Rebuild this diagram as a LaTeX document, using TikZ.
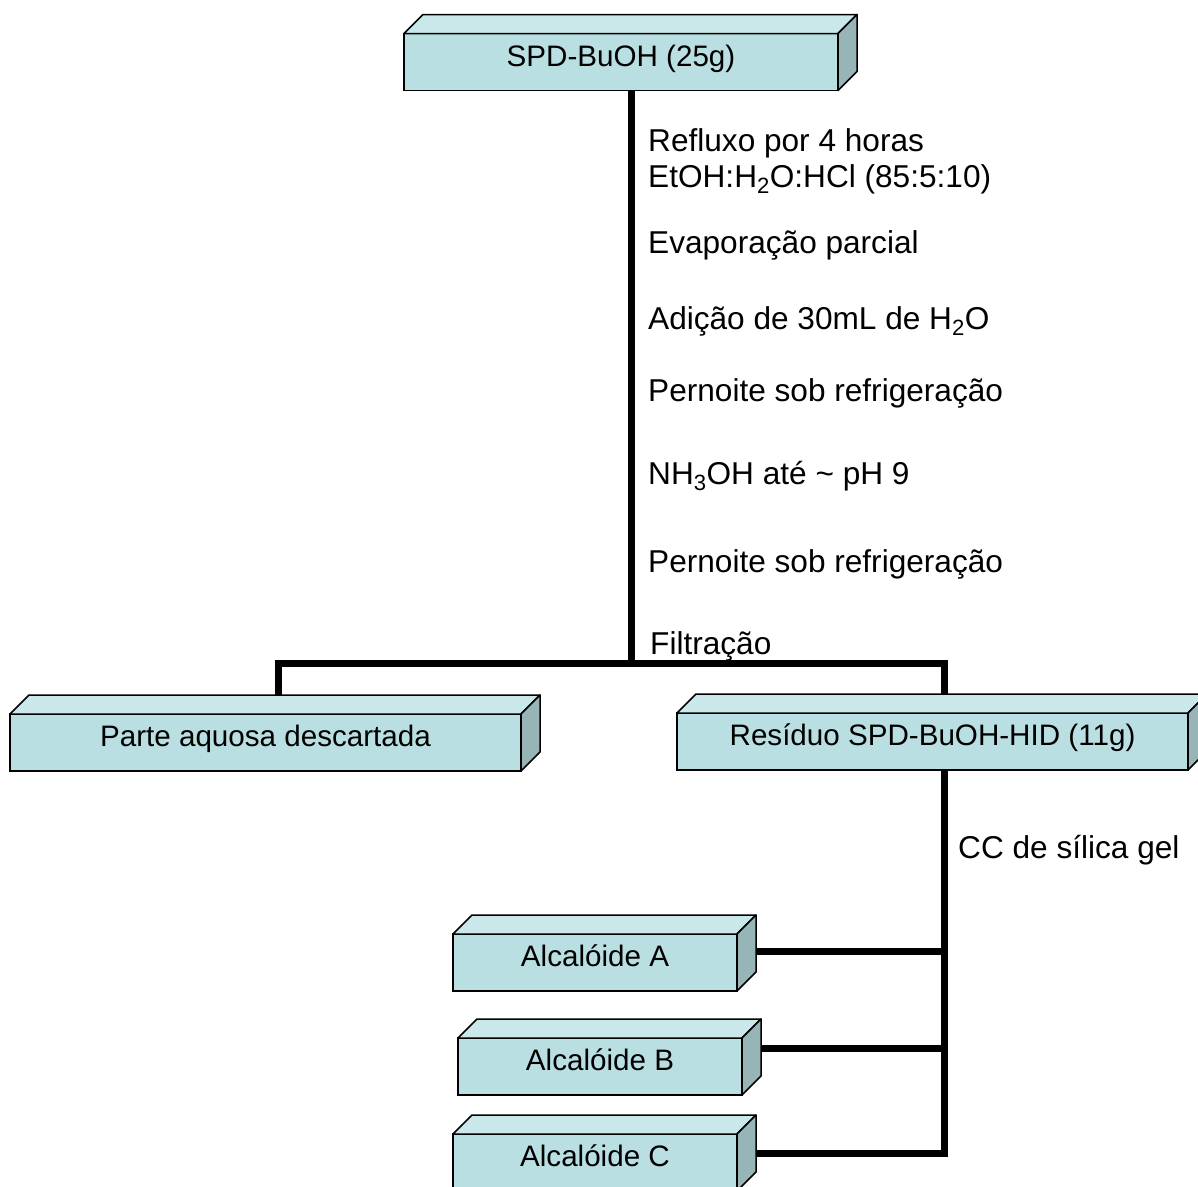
\documentclass[tikz,border=0pt]{standalone}
\usepackage{fontspec}
\setmainfont{Liberation Sans}
\usetikzlibrary{calc}
\definecolor{frontc}{RGB}{185,223,226}
\definecolor{topc}{RGB}{202,232,234}
\definecolor{sidec}{RGB}{151,180,182}
\tikzset{
  front/.style={draw=black, line width=1.5pt, fill=frontc, inner sep=0pt, outer sep=0pt,
    minimum height=57pt, text height=20pt, text depth=12pt,
    font=\fontsize{29.6}{34}\selectfont},
  topface/.style={draw=black, line width=1.5pt, fill=topc, line join=round},
  sideface/.style={draw=black, line width=1.5pt, fill=sidec, line join=round},
  conn/.style={line width=7pt, line cap=butt, line join=miter},
  lbl/.style={anchor=base west, inner sep=0pt, font=\fontsize{31.6}{36}\selectfont}
}
\newcommand\cuboid[1]{%
  \draw[topface] (#1.north west) -- ++(19pt,19pt) -- ([xshift=19pt,yshift=19pt]#1.north east) -- (#1.north east) -- cycle;
  \draw[sideface] (#1.north east) -- ([xshift=19pt,yshift=19pt]#1.north east) -- ([xshift=19pt,yshift=19pt]#1.south east) -- (#1.south east) -- cycle;
  \coordinate (#1-back) at ([xshift=19pt,yshift=19pt]#1.north east);
}
\begin{document}
\begin{tikzpicture}[x=1pt,y=-1pt]
\useasboundingbox[fill=white] (0,0) rectangle (1198,1186);
% junction coordinates
\coordinate (j) at (631,663);
\coordinate (jl) at (278,663);
\coordinate (jr) at (944,663);
\coordinate (ja) at (944,951);
\coordinate (jb) at (944,1048);
\coordinate (jc) at (944,1153);
\coordinate (lt) at (278,695);
\coordinate (rt) at (944,695);

% connectors (drawn first, boxes on top)
\draw[conn] (631,90) coordinate (s0) -- (j);
\draw[conn] ([xshift=-3.5pt]jl) -- ([xshift=3.5pt]jr);
\draw[conn] (jl) -- (lt);
\draw[conn] (jr) -- (rt);
\draw[conn] (944,770) coordinate (s1) -- ([yshift=-3.5pt]jc);
\draw[conn] (756,951) coordinate (ea) -- ([xshift=3.5pt]ja);
\draw[conn] (761,1048) coordinate (eb) -- ([xshift=3.5pt]jb);
\draw[conn] (756,1153) coordinate (ec) -- ([xshift=3.5pt]jc);

% boxes
\node[front, minimum width=434pt] (top) at (621,62) {SPD-BuOH (25g)};
\cuboid{top}
\node[front, minimum width=511pt] (parte) at (265.5,742.5) {Parte aquosa descartada};
\cuboid{parte}
\node[front, minimum width=511pt] (res) at (932.5,741.5) {Resíduo SPD-BuOH-HID (11g)};
\cuboid{res}
\node[front, minimum width=284pt] (A) at (595,962.5) {Alcalóide A};
\cuboid{A}
\node[front, minimum width=284pt] (B) at (600,1066.5) {Alcalóide B};
\cuboid{B}
\node[front, minimum width=284pt] (C) at (595,1162.5) {Alcalóide C};
\cuboid{C}

% labels
\node[lbl] (l1) at (648,151) {Refluxo por 4 horas};
\node[lbl] (l2) at (648,187) {EtOH:H\textsubscript{2}O:HCl (85:5:10)};
\node[lbl] (l3) at (648,253) {Evaporação parcial};
\node[lbl] (l4) at (648,329) {Adição de 30mL de H\textsubscript{2}O};
\node[lbl] (l5) at (648,401) {Pernoite sob refrigeração};
\node[lbl] (l6) at (648,484) {NH\textsubscript{3}OH até \char"7E{} pH 9};
\node[lbl] (l7) at (648,572) {Pernoite sob refrigeração};
\node[lbl] (l8) at (650,654) {Filtração};
\node[lbl] (l9) at (958,858) {CC de sílica gel};
\end{tikzpicture}
\end{document}
